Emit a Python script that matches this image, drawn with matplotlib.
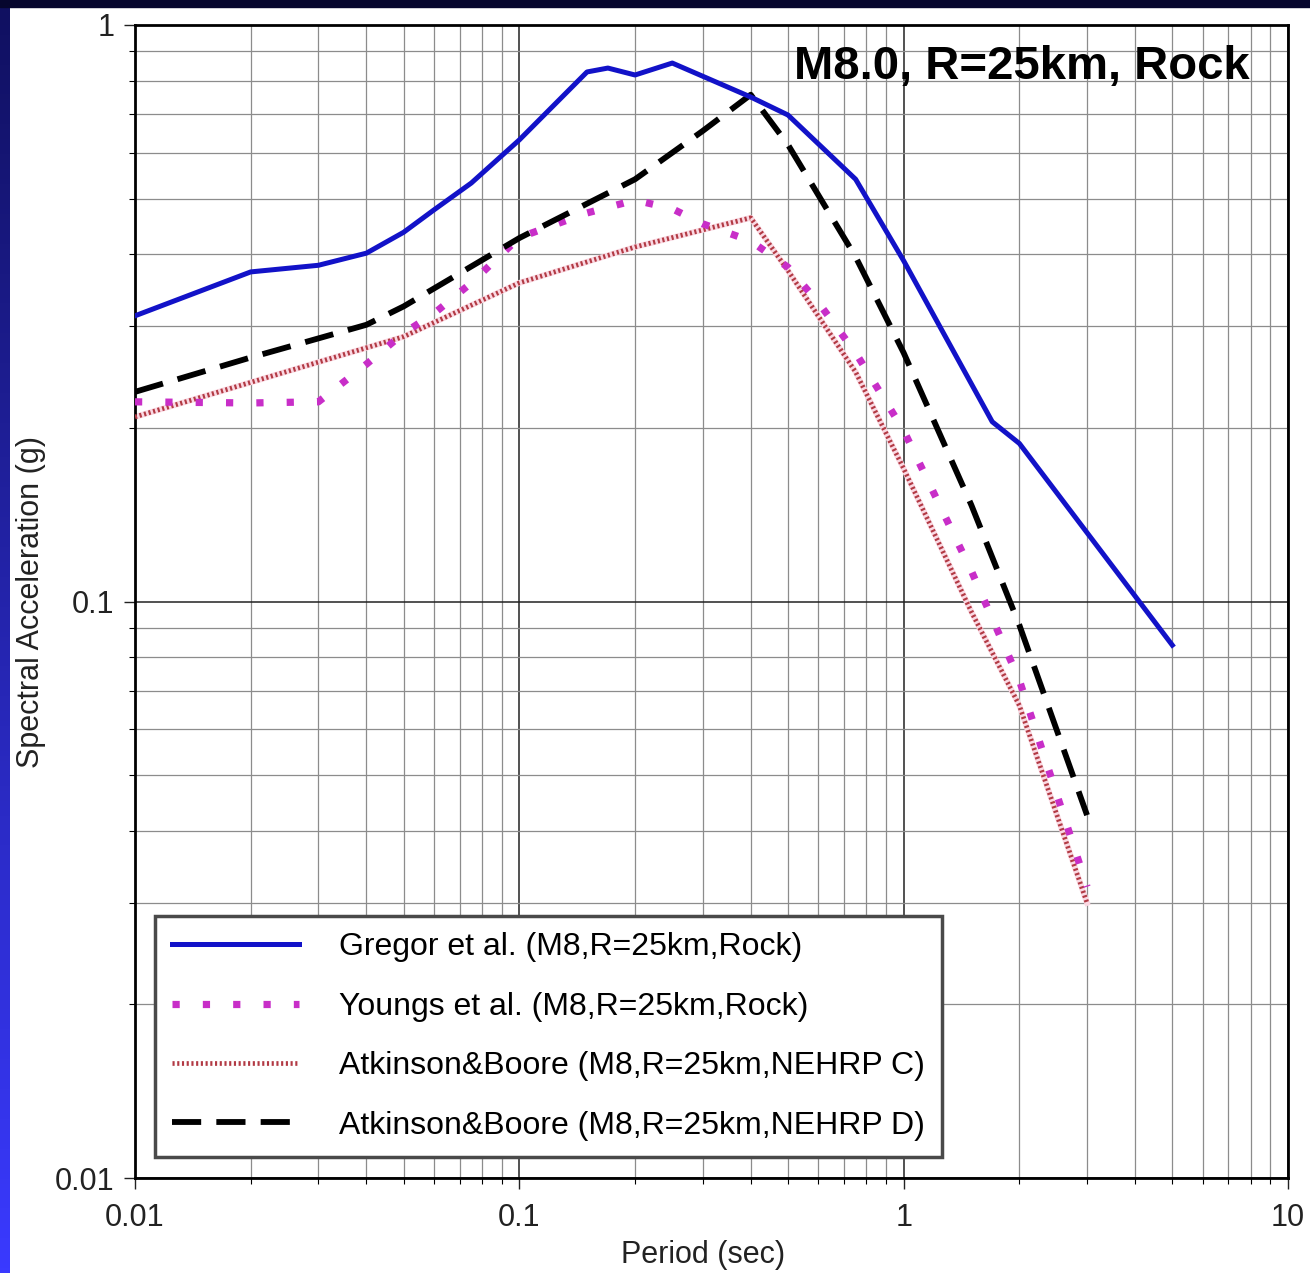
import numpy as np
import matplotlib
matplotlib.use("Agg")
import matplotlib.pyplot as plt
from matplotlib.patches import Rectangle

plt.rcParams['font.family'] = ['Liberation Sans', 'DejaVu Sans']

# Gregor et al. (M8, R=25km, Rock)
gregor_T = [0.01, 0.02, 0.03, 0.04, 0.05, 0.06, 0.075, 0.1, 0.15, 0.17, 0.2, 0.25,
            0.4, 0.5, 0.75, 1.0, 1.7, 2.0, 5.0]
gregor_sa = [0.313, 0.373, 0.383, 0.402, 0.437, 0.478, 0.532, 0.632, 0.829, 0.842, 0.819, 0.859,
             0.75, 0.698, 0.54, 0.39, 0.205, 0.188, 0.084]

# Youngs et al. (M8, R=25km, Rock)
youngs_T = [0.01, 0.02, 0.03, 0.04, 0.05, 0.06, 0.075, 0.1, 0.15, 0.2, 0.25, 0.3,
            0.4, 0.5, 0.6, 0.75, 1.0, 1.5, 2.0, 3.0]
youngs_sa = [0.222, 0.221, 0.222, 0.258, 0.292, 0.316, 0.357, 0.428, 0.472, 0.497, 0.48, 0.452,
             0.422, 0.38, 0.33, 0.27, 0.198, 0.113, 0.073, 0.032]

# Atkinson & Boore, NEHRP C
abc_T = [0.01, 0.05, 0.1, 0.2, 0.4, 0.5, 0.75, 1.0, 1.5, 2.0, 3.0]
abc_sa = [0.209, 0.288, 0.357, 0.412, 0.463, 0.375, 0.25, 0.17, 0.096, 0.066, 0.030]

# Atkinson & Boore, NEHRP D
abd_T = [0.01, 0.02, 0.03, 0.04, 0.05, 0.1, 0.2, 0.3, 0.4, 0.5, 0.75, 1.0, 1.5, 2.0, 3.0]
abd_sa = [0.231, 0.265, 0.286, 0.302, 0.325, 0.427, 0.54, 0.655, 0.757, 0.62, 0.396, 0.27,
          0.147, 0.091, 0.0426]

labels = ['Gregor et al. (M8,R=25km,Rock)',
          'Youngs et al. (M8,R=25km,Rock)',
          'Atkinson&Boore (M8,R=25km,NEHRP C)',
          'Atkinson&Boore (M8,R=25km,NEHRP D)']

xticks = [0.01, 0.1, 1, 10]
xticklabels = ['0.01', '0.1', '1', '10']
yticks = [0.01, 0.1, 1]
yticklabels = ['0.01', '0.1', '1']

W, H = 1310, 1273
fig = plt.figure(figsize=(W / 100, H / 100), dpi=100)
fig.patch.set_facecolor('white')

# slide-style border: dark strip on top, blue gradient on the left
bg = fig.add_axes([0, 0, 10 / W, 1])
grad = np.linspace(0, 1, 256).reshape(-1, 1)
cmap = matplotlib.colors.LinearSegmentedColormap.from_list('b', ['#3a3aff', '#101060'])
bg.imshow(grad, aspect='auto', cmap=cmap, origin='lower', extent=[0, 1, 0, 1])
bg.axis('off')
fig.patches.append(Rectangle((0, 1 - 7 / H), 1, 7 / H, transform=fig.transFigure,
                             color='#06062e', zorder=5))

ax = fig.add_axes([135 / W, 1 - 1178 / H, 1153 / W, 1153 / H])
ax.set_xscale('log')
ax.set_yscale('log')
ax.set_xlim(0.01, 10)
ax.set_ylim(0.01, 1)

ax.grid(which='minor', color='#8c8c8c', lw=0.9)
ax.grid(which='major', color='#222222', lw=1.1)
ax.set_axisbelow(True)

# pale halo under the fine dotted line, as in the scanned original
ax.plot(abc_T, abc_sa, color='#fad9e3', lw=4.2, zorder=2)
ax.plot(abc_T, abc_sa, color='#b23a44', lw=3.4, linestyle=(0, (0.45, 0.55)), label=labels[2], zorder=3)
ax.plot(youngs_T, youngs_sa, color='#c82ec8', lw=5.2, linestyle=(0, (1, 3.2)), label=labels[1], zorder=4)
ax.plot(abd_T, abd_sa, color='black', lw=4.2, dashes=(5, 2.6), label=labels[3], zorder=5)
ax.plot(gregor_T, gregor_sa, color='#1212c8', lw=3.6, label=labels[0], zorder=6)

ax.set_xticks(xticks)
ax.set_xticklabels(xticklabels)
ax.set_yticks(yticks)
ax.set_yticklabels(yticklabels)
ax.tick_params(which='major', length=8, width=1, labelsize=22, colors='#222222')
ax.tick_params(axis='x', which='major', pad=10)
ax.tick_params(axis='y', which='major', pad=7)
ax.tick_params(which='minor', length=4, width=0.8)
for s in ax.spines.values():
    s.set_linewidth(2)

ax.set_xlabel('Period (sec)', fontsize=22, color='#222222')
ax.set_ylabel('Spectral Acceleration (g)', fontsize=22, color='#222222')
ax.xaxis.set_label_coords(0.4926, -0.054)
ax.yaxis.set_label_coords(-0.077, 0.5)

ax.text(0.967, 0.983, 'M8.0, R=25km, Rock', transform=ax.transAxes, ha='right', va='top',
        fontsize=34, fontweight='bold')

h, l = ax.get_legend_handles_labels()
order = [3, 1, 0, 2]
leg = ax.legend([h[i] for i in order], [l[i] for i in order], loc='lower left',
                bbox_to_anchor=(0.0173, 0.018), borderaxespad=0, fontsize=23,
                handlelength=4.0, handletextpad=1.25, labelspacing=0.92, borderpad=0.52,
                fancybox=False, framealpha=1, edgecolor='#4a4a4a')
leg.get_frame().set_linewidth(2.5)
leg.set_zorder(10)

fig.savefig('out.png', dpi=100)
